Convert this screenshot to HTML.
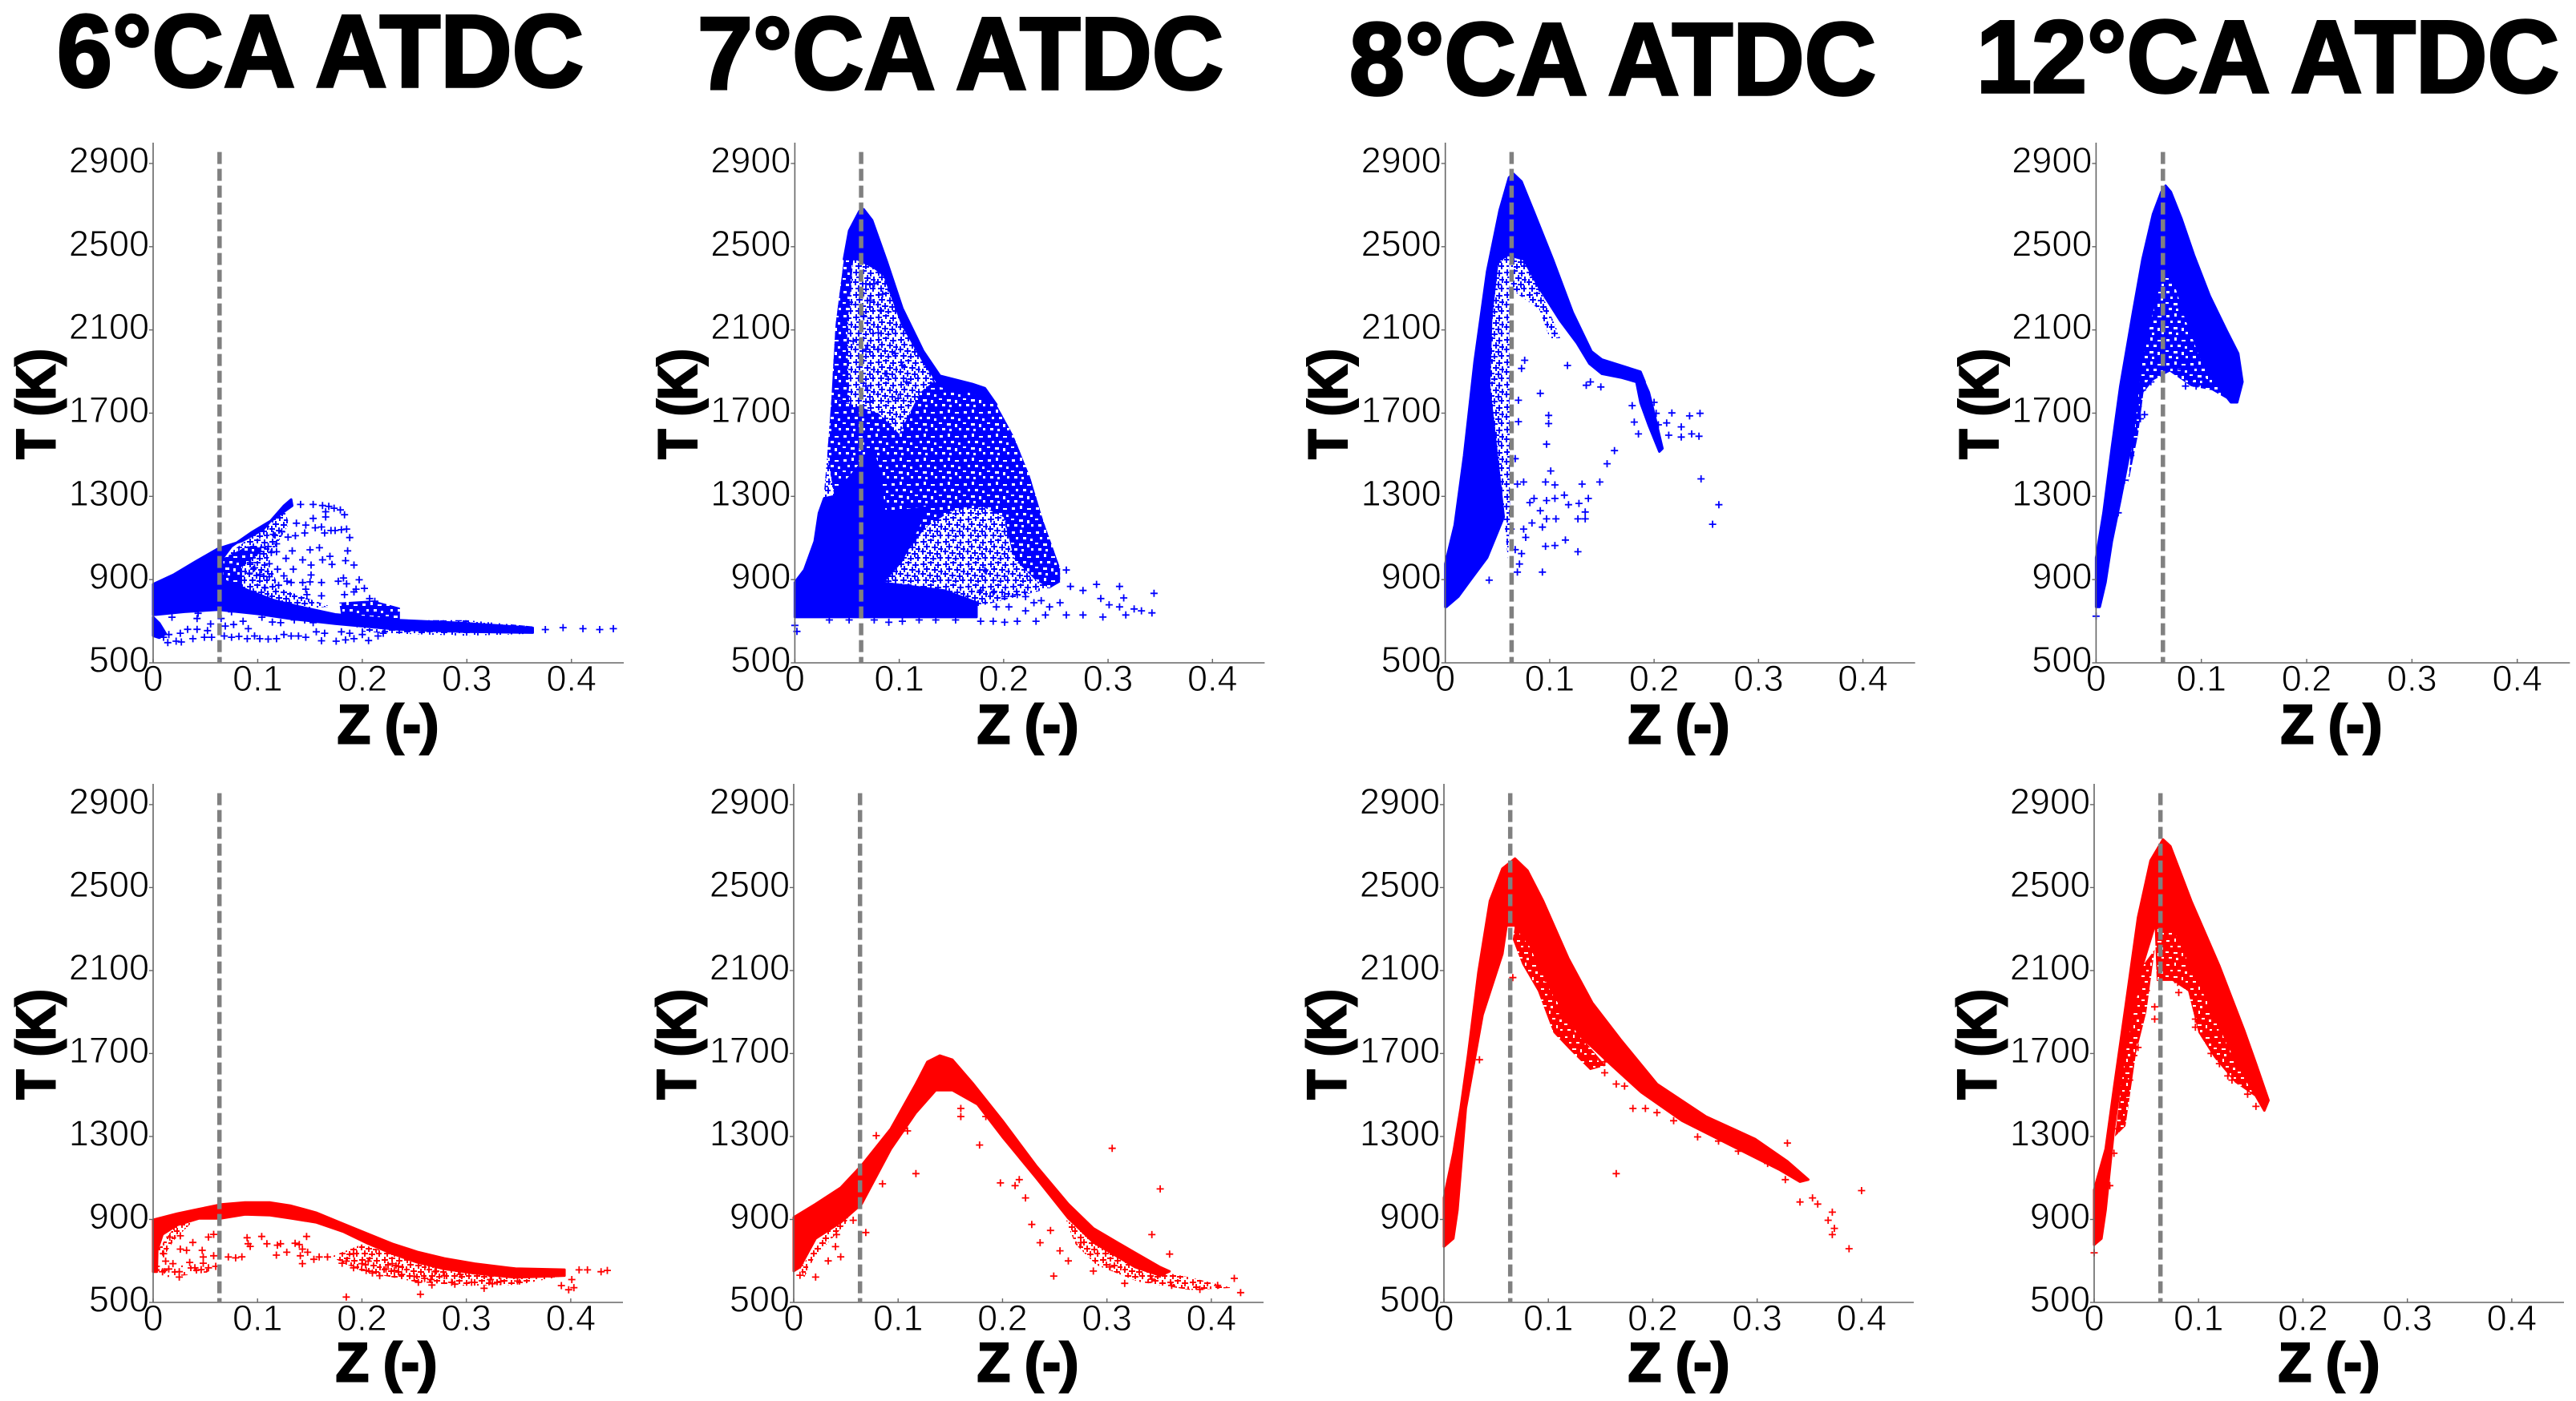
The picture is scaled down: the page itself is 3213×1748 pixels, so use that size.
<!DOCTYPE html>
<html>
<head>
<meta charset="utf-8">
<title>T-Z scatter panels</title>
<style>
html,body{margin:0;padding:0;background:#fff;}
svg{display:block;}
text{font-family:"Liberation Sans",sans-serif;}
</style>
</head>
<body>
<svg id="figure" xmlns="http://www.w3.org/2000/svg" width="3213" height="1748" viewBox="0 0 3213 1748">
<defs>
<pattern id="sparse-blue" patternUnits="userSpaceOnUse" width="40" height="40"><path fill="none" stroke="#0000ff" stroke-width="1.8" d="M2 6h8M6 2v8M16 4h8M20 0v8M29 9h8M33 5v8M8 15h8M12 11v8M23 17h8M27 13v8M34 22h8M38 18v8M1 25h8M5 21v8M14 27h8M18 23v8M26 31h8M30 27v8M6 35h8M10 31v8M18 38h8M22 34v8M33 36h8M37 32v8"/></pattern>
<pattern id="sparse-red" patternUnits="userSpaceOnUse" width="40" height="40"><path fill="none" stroke="#ff0000" stroke-width="1.8" d="M2 6h8M6 2v8M16 4h8M20 0v8M29 9h8M33 5v8M8 15h8M12 11v8M23 17h8M27 13v8M34 22h8M38 18v8M1 25h8M5 21v8M14 27h8M18 23v8M26 31h8M30 27v8M6 35h8M10 31v8M18 38h8M22 34v8M33 36h8M37 32v8"/></pattern>
<pattern id="medium-blue" patternUnits="userSpaceOnUse" width="28" height="28"><path fill="none" stroke="#0000ff" stroke-width="1.9" d="M0 4h8M4 0v8M9 2h8M13 -2v8M18 5h8M22 1v8M4 10h8M8 6v8M14 11h8M18 7v8M22 13h8M26 9v8M-1 16h8M3 12v8M8 18h8M12 14v8M17 19h8M21 15v8M3 24h8M7 20v8M12 25h8M16 21v8M21 24h8M25 20v8"/></pattern>
<pattern id="medium-red" patternUnits="userSpaceOnUse" width="28" height="28"><path fill="none" stroke="#ff0000" stroke-width="1.9" d="M0 4h8M4 0v8M9 2h8M13 -2v8M18 5h8M22 1v8M4 10h8M8 6v8M14 11h8M18 7v8M22 13h8M26 9v8M-1 16h8M3 12v8M8 18h8M12 14v8M17 19h8M21 15v8M3 24h8M7 20v8M12 25h8M16 21v8M21 24h8M25 20v8"/></pattern>
<pattern id="dense-blue" patternUnits="userSpaceOnUse" width="30" height="30"><rect width="30" height="30" fill="#0000ff"/><path fill="#fff" d="M2 3h4v3h-4zM12 1h3v4h-3zM21 4h5v2h-5zM7 10h3v3h-3zM16 10h4v3h-4zM25 12h3v3h-3zM1 17h4v2h-4zM11 18h5v3h-5zM21 19h3v4h-3zM5 24h4v3h-4zM14 25h3v3h-3zM26 24h3v3h-3z"/></pattern>
<pattern id="dense-red" patternUnits="userSpaceOnUse" width="30" height="30"><rect width="30" height="30" fill="#ff0000"/><path fill="#fff" d="M2 3h4v2h-4zM12 1h2v4h-2zM21 4h5v2h-5zM7 10h3v2h-3zM16 10h4v2h-4zM25 12h3v3h-3zM1 17h4v2h-4zM11 18h5v2h-5zM21 19h2v4h-2zM5 24h4v2h-4zM14 25h3v3h-3zM26 24h3v2h-3z"/></pattern>
</defs>
</svg>
<script>
// ---- axis values ----
const zTicks = [0, 0.1, 0.2, 0.3, 0.4];
const zTickLabels = ["0", "0.1", "0.2", "0.3", "0.4"];
const tTicks = [500, 900, 1300, 1700, 2100, 2500, 2900];
const zDomain = [0, 0.45];
const tDomain = [500, 3000];
const stoichiometricZ = 0.0635;
const stoichiometricTop = 2955;
const crankAngleTitles = ["6°CA ATDC", "7°CA ATDC", "8°CA ATDC", "12°CA ATDC"];

// ---- panel 1: 6 CA, blue ----
const p1Solid = [[0,878],[.02,925],[.04,985],[.062,1049],[.085,1085],[.105,1140],[.125,1255],[.132,1285],[.133,1255],[.115,1190],[.095,1130],[.075,1060],[.066,1000],[.066,900],[.09,850],[.114,803],[.14,770],[.174,733],[.235,705],[.295,692],[.363,668],[.363,645],[.295,650],[.235,660],[.174,688],[.134,710],[.1,735],[.062,755],[.03,745],[0,730]];
const p1Clot = [[0,720],[.006,690],[.012,640],[.006,620],[0,630]];
const p1DenseA = [[.066,1000],[.09,1060],[.11,1060],[.085,960],[.085,850],[.066,880]];
const p1DenseB = [[.178,790],[.21,800],[.236,765],[.236,700],[.18,720]];
const p1MediumA = [[.066,1000],[.1,1130],[.125,1240],[.13,1170],[.11,1000],[.12,860],[.17,770],[.14,760],[.09,840],[.066,890]];
const p1MediumB = [[.235,705],[.3,705],[.363,675],[.363,640],[.3,630],[.235,640],[.2,650],[.19,690]];
const p1Points = [[.141,1261],[.153,1261],[.162,1256],[.168,1252],[.173,1243],[.179,1235],[.183,1212],[.165,1226],[.165,1201],[.153,1194],[.146,1162],[.137,1171],[.155,1149],[.161,1153],[.170,1136],[.174,1136],[.180,1140],[.185,1143],[.188,1102],[.164,1124],[.145,1124],[.136,1111],[.129,1104],[.123,1130],[.115,1117],[.118,1072],[.110,1059],[.133,1038],[.150,1043],[.159,1053],[.169,1012],[.162,995],[.184,991],[.186,1038],[.192,970],[.171,973],[.151,970],[.143,995],[.127,1002],[.118,1034],[.113,1030],[.111,976],[.119,950],[.134,950],[.151,922],[.143,886],[.150,889],[.161,886],[.177,892],[.182,908],[.185,880],[.197,899],[.125,918],[.111,914],[.102,925],[.093,982],[.102,1034],[.097,957],[.092,931],[.107,860],[.120,873],[.128,892],[.132,886],[.161,822],[.147,828],[.146,854],[.183,828],[.194,854],[.202,858],[.192,841],[.207,809],[.212,796],[.010,623],[.014,597],[.022,604],[.027,600],[.015,636],[.026,642],[.033,661],[.038,616],[.042,661],[.049,623],[.052,655],[.056,623],[.068,629],[.075,623],[.082,627],[.090,616],[.097,629],[.102,616],[.110,614],[.118,616],[.125,636],[.132,629],[.139,629],[.146,623],[.156,649],[.161,606],[.164,642],[.175,604],[.184,610],[.192,616],[.200,636],[.206,607],[.215,629],[.220,642],[.043,738],[.042,713],[.018,719],[.055,687],[.069,677],[.077,684],[.086,700],[.091,664],[.104,719],[.114,696],[.122,693],[.135,706],[.145,706],[.153,693],[.180,649],[.188,642],[.065,713],[.075,745],[.375,660],[.392,669],[.411,664],[.427,660],[.440,664]];

// ---- panel 2: 7 CA, blue ----
const p2Envelope = [[0,887],[.009,946],[.019,1084],[.027,1260],[.031,1496],[.035,1771],[.039,2125],[.047,2440],[.052,2577],[.062,2672],[.066,2680],[.074,2627],[.088,2430],[.103,2204],[.123,1998],[.139,1880],[.170,1840],[.182,1820],[.193,1742],[.209,1595],[.225,1398],[.238,1182],[.254,956],[.254,887],[.244,858],[.174,769],[.174,720],[0,720]];
const p2Dense = [[.035,1771],[.05,1750],[.08,1700],[.1,1600],[.12,1800],[.14,1880],[.17,1840],[.182,1820],[.193,1742],[.209,1595],[.225,1398],[.238,1182],[.254,956],[.254,887],[.244,858],[.23,900],[.21,1000],[.2,1200],[.18,1250],[.15,1230],[.125,1150],[.11,1050],[.1,1000],[.085,1100],[.04,1240],[.031,1496]];
const p2LeftStrip = [[.039,2125],[.047,2440],[.056,2440],[.05,2100],[.052,1750],[.035,1771]];
const p2Crest = [[.047,2440],[.052,2577],[.062,2672],[.066,2680],[.074,2627],[.088,2430],[.103,2204],[.123,1998],[.139,1880],[.170,1840],[.182,1820],[.193,1742],[.186,1760],[.17,1800],[.139,1830],[.123,1950],[.103,2125],[.086,2360],[.076,2400],[.06,2440]];
const p2Mass = [[0,887],[.009,946],[.019,1084],[.023,1220],[.028,1290],[.037,1300],[.06,1437],[.074,1528],[.08,1437],[.086,1220],[.127,1247],[.102,989],[.084,885],[.143,848],[.174,790],[.174,720],[0,720]];
const p2Points = [[.178,848],[.190,838],[.201,818],[.213,828],[.221,818],[.229,789],[.236,799],[.244,769],[.254,789],[.260,730],[.264,867],[.276,848],[.289,877],[.293,809],[.301,779],[.311,867],[.315,812],[.311,769],[.325,759],[.332,750],[.342,740],[.344,834],[.317,730],[.295,720],[.276,730],[.240,730],[.231,700],[.213,700],[.201,695],[.190,700],[.178,700],[.182,946],[.193,769],[.205,769],[.221,750],[.260,946],[.002,651],[.033,706],[.052,706],[.076,706],[.09,695],[.103,700],[.119,706],[.135,706],[.154,706],[0,680],[.068,2322],[.076,2322],[.072,2243],[.084,2272],[.066,2164],[.082,2194],[.080,2086],[.068,2007],[.096,1987],[.103,1929],[.080,2007],[.052,2223],[.056,2046],[.045,2007],[.049,1889],[.068,1830],[.088,1889],[.107,1850],[.099,1771],[.072,1752]];

// ---- panel 3: 8 CA, blue ----
const p3Solid = [[0,976],[.009,1162],[.018,1496],[.028,1948],[.040,2381],[.052,2675],[.061,2832],[.065,2852],[.073,2813],[.085,2665],[.103,2439],[.122,2184],[.14,1997],[.15,1958],[.187,1899],[.191,1850],[.187,1800],[.183,1850],[.169,1870],[.15,1889],[.138,1938],[.126,2037],[.11,2145],[.09,2302],[.075,2440],[.06,2460],[.05,2430],[.044,2164],[.042,1830],[.056,1201],[.04,1005],[.024,897],[.0125,818],[.001,769],[0,769]];
const p3MediumA = [[.044,2164],[.05,2430],[.061,2548],[.062,1200],[.060,1000],[.056,1201],[.042,1830]];
const p3MediumB = [[.063,2460],[.075,2440],[.09,2302],[.107,2100],[.11,2060],[.1,2060],[.09,2200],[.07,2270],[.063,2300]];
const p3Chain = [[.188,1880],[.195,1800],[.2,1700],[.208,1530],[.205,1515],[.195,1640],[.187,1750],[.183,1850]];
const p3Points = [[.042,897],[.069,936],[.093,936],[.096,1060],[.105,1064],[.115,1090],[.127,1034],[.073,1025],[.071,975],[.067,1044],[.077,1103],[.063,1143],[.075,1143],[.083,1172],[.093,1152],[.091,1231],[.081,1270],[.085,1290],[.097,1280],[.105,1290],[.114,1306],[.105,1355],[.096,1369],[.069,1359],[.075,1369],[.131,1359],[.148,1369],[.137,1290],[.128,1266],[.118,1260],[.134,1225],[.134,1192],[.127,1192],[.106,1192],[.097,1192],[.101,1422],[.067,1481],[.155,1457],[.162,1520],[.097,1551],[.099,1650],[.099,1689],[.070,1659],[.070,1762],[.091,1795],[.076,1954],[.073,1915],[.117,1929],[.135,1834],[.139,1850],[.149,1826],[.245,1384],[.262,1260],[.256,1166],[.179,1736],[.181,1657],[.185,1600],[.200,1752],[.202,1699],[.217,1701],[.234,1687],[.244,1699],[.212,1653],[.226,1634],[.214,1594],[.226,1585],[.236,1600],[.243,1589],[.204,1644],[.202,1585]];

// ---- panel 4: 12 CA, blue ----
const p4Solid = [[0,1005],[.007,1221],[.015,1536],[.023,1830],[.035,2184],[.044,2439],[.054,2656],[.062,2764],[.066,2793],[.071,2764],[.081,2636],[.093,2459],[.108,2263],[.124,2096],[.135,1987],[.139,1850],[.134,1752],[.128,1752],[.116,1830],[.101,1948],[.085,2164],[.073,2361],[.062,2361],[.052,2164],[.042,1929],[.035,1595],[.023,1280],[.015,1084],[.009,887],[.0035,769],[0,769]];
const p4Dense = [[.042,1929],[.052,2164],[.062,2361],[.073,2361],[.085,2164],[.101,1948],[.116,1830],[.13,1752],[.11,1810],[.09,1830],[.07,1900],[.055,1860],[.045,1800],[.04,1600],[.03,1350],[.035,1595]];
const p4Points = [[.085,1830],[.095,1830],[.104,1850],[.089,1860],[.046,1693],[.040,1732],[.042,1673],[.035,1575],[.033,1496],[.027,1378],[.023,1339],[.021,1221],[.052,1850],[.044,1811],[.081,1909],[0,724]];

// ---- panel 5: 6 CA, red ----
const p5Solid = [[0,898],[.023,928],[.044,950],[.065,972],[.088,982],[.112,982],[.132,966],[.156,933],[.182,879],[.206,830],[.229,783],[.253,744],[.279,712],[.308,687],[.347,663],[.394,658],[.394,629],[.347,620],[.308,640],[.279,661],[.253,693],[.229,735],[.206,783],[.182,841],[.156,886],[.132,905],[.112,920],[.088,924],[.065,905],[.044,905],[.023,873],[.009,828],[.004,751],[.0035,648],[0,648]];
const p5MediumA = [[.2,780],[.25,700],[.3,640],[.35,620],[.39,625],[.35,585],[.3,580],[.25,600],[.2,650],[.17,720]];
const p5MediumB = [[.004,750],[.02,860],[.04,900],[.02,800],[.01,720]];
const p5SparseA = [[.0035,660],[.03,680],[.06,670],[.05,640],[.01,620]];
const p5Points = [[.010,735],[.026,821],[.016,815],[.038,789],[.026,757],[.032,751],[.047,751],[.048,719],[.058,725],[.053,815],[.058,828],[.072,719],[.079,715],[.085,720],[.090,812],[.091,783],[.093,770],[.104,818],[.109,783],[.119,776],[.122,783],[.118,728],[.128,742],[.136,785],[.140,779],[.143,757],[.148,742],[.141,725],[.143,687],[.154,708],[.159,719],[.167,719],[.147,818],[.181,689],[.185,699],[.192,735],[.192,667],[.200,687],[.206,699],[.204,654],[.210,642],[.217,629],[.223,661],[.231,654],[.238,635],[.250,626],[.254,597],[.260,616],[.267,584],[.266,610],[.279,629],[.286,597],[.289,588],[.305,597],[.317,568],[.325,590],[.333,601],[.349,603],[.185,526],[.256,539],[.391,581],[.398,561],[.403,571],[.401,610],[.408,657],[.416,657],[.429,648],[.435,654],[.003,674],[.009,648],[.015,661],[.025,622],[.025,648],[.035,693],[.040,667],[.046,658],[.048,689],[.053,667],[.060,674],[.019,687],[.012,699],[.229,687],[.235,674],[.270,648],[.294,635],[.323,610]];

// ---- panel 6: 7 CA, red ----
const p6Solid = [[0,910],[.021,974],[.045,1053],[.065,1160],[.093,1337],[.117,1553],[.128,1660],[.14,1690],[.152,1670],[.172,1553],[.2,1376],[.232,1160],[.263,974],[.287,857],[.327,739],[.351,670],[.36,650],[.351,630],[.327,670],[.287,790],[.263,906],[.232,1102],[.2,1298],[.176,1455],[.152,1523],[.136,1523],[.117,1415],[.093,1239],[.065,974],[.045,886],[.021,808],[.006,670],[0,651]];
const p6MediumA = [[.26,900],[.3,770],[.35,650],[.38,620],[.42,570],[.38,560],[.33,600],[.29,680],[.27,780]];
const p6MediumB = [[.006,660],[.03,840],[.055,950],[.05,880],[.02,720],[.01,620]];
const p6Points = [[.079,1304],[.105,1337],[.117,1121],[.178,1259],[.305,1243],[.351,1047],[.198,1076],[.212,1063],[.216,1092],[.222,1004],[.228,876],[.246,847],[.343,827],[.360,733],[.249,627],[.236,788],[.255,749],[.263,700],[.275,788],[.287,651],[.303,671],[.317,592],[.343,612],[.362,582],[.389,563],[.406,582],[.428,547],[.422,616],[.160,1435],[.176,1474],[.184,1396],[.160,1396],[.006,631],[.021,622],[.045,720],[.033,700],[.040,769],[.069,837],[.041,827],[.057,896],[.085,1072],[.109,1327]];

// ---- panel 7: 8 CA, red ----
const p7Solid = [[0,1004],[.009,1219],[.016,1435],[.023,1690],[.033,2092],[.044,2435],[.056,2591],[.068,2640],[.08,2582],[.095,2435],[.119,2160],[.142,1945],[.169,1768],[.204,1553],[.251,1396],[.298,1288],[.329,1180],[.349,1092],[.341,1082],[.321,1141],[.282,1239],[.228,1376],[.189,1513],[.161,1641],[.130,1788],[.103,2003],[.083,2219],[.068,2317],[.060,2317],[.056,2180],[.037,1886],[.021,1435],[.013,945],[.009,808],[0,769]];
const p7Dense = [[.068,2317],[.083,2219],[.103,2003],[.130,1788],[.155,1641],[.14,1620],[.12,1720],[.105,1800],[.09,2000],[.075,2130],[.066,2250]];
const p7Points = [[.066,2066],[.034,1670],[.165,1121],[.154,1607],[.165,1553],[.173,1543],[.181,1435],[.193,1435],[.204,1415],[.220,1376],[.243,1298],[.282,1229],[.263,1278],[.329,1268],[.310,1170],[.327,1092],[.341,984],[.353,1004],[.358,974],[.368,896],[.372,935],[.374,857],[.372,827],[.388,759],[.400,1039],[.119,1788],[.134,1739],[.146,1670],[.154,1660],[.111,1886],[.097,2062],[.080,2229]];

// ---- panel 8: 12 CA, red ----
const p8Solid = [[0,1043],[.011,1239],[.019,1533],[.030,1925],[.042,2356],[.054,2630],[.066,2732],[.073,2699],[.093,2435],[.12,2121],[.144,1807],[.155,1651],[.167,1474],[.163,1425],[.144,1592],[.128,1749],[.112,1925],[.093,2121],[.077,2297],[.058,2317],[.046,2121],[.030,1729],[.019,1337],[.011,945],[.007,808],[0,778]];
const p8DenseA = [[.058,2317],[.077,2297],[.093,2121],[.112,1925],[.128,1749],[.144,1592],[.163,1425],[.155,1490],[.135,1560],[.115,1680],[.1,1800],[.09,2000],[.075,2050],[.06,2050]];
const p8DenseB = [[.046,2121],[.058,2200],[.05,1900],[.04,1700],[.03,1350],[.02,1300],[.03,1729]];
const p8Points = [[.097,1866],[.097,1827],[.120,1807],[.112,1700],[.120,1651],[.128,1592],[.147,1504],[.155,1445],[.132,1572],[.081,1994],[.080,2043],[.058,1925],[.058,1866],[.050,2003],[.042,1729],[.038,1690],[.034,1572],[.030,1494],[.027,1415],[.023,1337],[.019,1219],[.015,1063],[0,739]];

// ---- which series belong to which panel ----
const panelSeries = [
  {color:"blue", sparse:[], medium:[p1MediumA,p1MediumB], dense:[p1DenseA,p1DenseB], solid:[p1Solid,p1Clot], points:p1Points},
  {color:"blue", sparse:[], medium:[p2Envelope], dense:[p2Dense,p2LeftStrip], solid:[p2Crest,p2Mass], points:p2Points},
  {color:"blue", sparse:[], medium:[p3MediumA,p3MediumB], dense:[], solid:[p3Solid,p3Chain], points:p3Points},
  {color:"blue", sparse:[], medium:[], dense:[p4Dense], solid:[p4Solid], points:p4Points},
  {color:"red", sparse:[p5SparseA], medium:[p5MediumA,p5MediumB], dense:[], solid:[p5Solid], points:p5Points},
  {color:"red", sparse:[], medium:[p6MediumA,p6MediumB], dense:[], solid:[p6Solid], points:p6Points},
  {color:"red", sparse:[], medium:[], dense:[p7Dense], solid:[p7Solid], points:p7Points},
  {color:"red", sparse:[], medium:[], dense:[p8DenseA,p8DenseB], solid:[p8Solid], points:p8Points}
];

// ---- page layout (not data) ----
const panelLayout = [
  {x:191,w:587,bottom:827,h:649,xt:484,yt:504,bt:927},
  {x:991.4,w:586,bottom:827,h:649,xt:1282,yt:504,bt:927},
  {x:1802.7,w:586,bottom:827,h:649,xt:2094,yt:504,bt:927},
  {x:2614.4,w:591,bottom:827,h:649,xt:2908,yt:504,bt:927},
  {x:191,w:586,bottom:1625,h:647,xt:482,yt:1303,bt:1723},
  {x:990,w:586,bottom:1625,h:647,xt:1282,yt:1303,bt:1723},
  {x:1801,w:586,bottom:1625,h:647,xt:2094,yt:1303,bt:1723},
  {x:2612,w:586,bottom:1625,h:647,xt:2905,yt:1303,bt:1723}
];
const titleLayout = [
  {x:71,y:108,len:657},
  {x:870,y:111,len:656},
  {x:1683,y:118,len:657},
  {x:2465,y:115,len:727}
];

const NS = "http://www.w3.org/2000/svg";
const figure = document.getElementById("figure");
function make(tag, parent, attrs){
  const el = document.createElementNS(NS, tag);
  for (const k in attrs) el.setAttribute(k, attrs[k]);
  parent.appendChild(el);
  return el;
}

crankAngleTitles.forEach(function(label, i){
  const t = titleLayout[i];
  const el = make("text", figure, {x:t.x, y:t.y, "font-size":128, "font-weight":"bold", fill:"#000", stroke:"#000", "stroke-width":3.5, textLength:t.len, lengthAdjust:"spacingAndGlyphs"});
  
  
  el.textContent = label;
});

panelSeries.forEach(function(series, i){
  const box = panelLayout[i];
  const hex = series.color === "blue" ? "#0000ff" : "#ff0000";
  const xScale = function(z){ return box.x + (z - zDomain[0]) / (zDomain[1] - zDomain[0]) * box.w; };
  const yScale = function(t){ return box.bottom - (t - tDomain[0]) / (tDomain[1] - tDomain[0]) * box.h; };
  const toPoints = function(arr){ return arr.map(function(p){ return xScale(p[0]).toFixed(1) + "," + yScale(p[1]).toFixed(1); }).join(" "); };

  const g = make("g", figure, {});
  
  

  series.sparse.forEach(function(arr){
    const el = make("polygon", g, {points:toPoints(arr), fill:"url(#sparse-" + series.color + ")"});
    
    
  });
  series.medium.forEach(function(arr){
    const el = make("polygon", g, {points:toPoints(arr), fill:"url(#medium-" + series.color + ")"});
    
    
  });
  series.dense.forEach(function(arr){
    const el = make("polygon", g, {points:toPoints(arr), fill:"url(#dense-" + series.color + ")"});
    
    
  });
  series.solid.forEach(function(arr){
    const el = make("polygon", g, {points:toPoints(arr), fill:hex, stroke:hex, "stroke-width":3, "stroke-linejoin":"round"});
    
    
  });
  series.points.forEach(function(p){
    const px = xScale(p[0]), py = yScale(p[1]);
    const el = make("path", g, {d:"M" + (px-4.5).toFixed(1) + " " + py.toFixed(1) + "h9M" + px.toFixed(1) + " " + (py-4.5).toFixed(1) + "v9", stroke:hex, "stroke-width":1.8, fill:"none"});
    
    
  });

  const yAxis = make("line", g, {x1:box.x, x2:box.x, y1:box.bottom, y2:box.bottom-box.h, stroke:"#666", "stroke-width":1.6});
  
  
  const xAxis = make("line", g, {x1:box.x, x2:box.x+box.w, y1:box.bottom, y2:box.bottom, stroke:"#666", "stroke-width":1.6});
  
  

  tTicks.forEach(function(t){
    const y = yScale(t);
    const tick = make("line", g, {x1:box.x-5, x2:box.x, y1:y, y2:y, stroke:"#666", "stroke-width":1.4});
    
    
    const lab = make("text", g, {x:box.x-5, y:y+11.5, "font-size":45, "text-anchor":"end", fill:"#000", stroke:"#fff", "stroke-width":0.9});
    
    
    lab.textContent = String(t);
  });
  zTicks.forEach(function(z, k){
    const x = xScale(z);
    const tick = make("line", g, {x1:x, x2:x, y1:box.bottom-5, y2:box.bottom, stroke:"#666", "stroke-width":1.4});
    
    
    const lab = make("text", g, {x:x, y:box.bottom+35, "font-size":45, "text-anchor":"middle", fill:"#000", stroke:"#fff", "stroke-width":0.9});
    
    
    lab.textContent = zTickLabels[k];
  });

  const dash = make("line", g, {x1:xScale(stoichiometricZ), x2:xScale(stoichiometricZ), y1:yScale(stoichiometricTop), y2:box.bottom, stroke:"#808080", "stroke-width":5.5, "stroke-dasharray":"15 6"});
  
  

  const xTitle = make("text", g, {x:box.xt, y:box.bt, "font-size":68, "font-weight":"bold", "text-anchor":"middle", fill:"#000", stroke:"#000", "stroke-width":3, textLength:126, lengthAdjust:"spacingAndGlyphs"});
  
  
  xTitle.textContent = "Z (-)";

  const yTitle = make("text", g, {transform:"translate(" + (box.x-123) + " " + box.yt + ") rotate(-90)", x:0, y:0, "font-size":68, "font-weight":"bold", "text-anchor":"middle", fill:"#000", stroke:"#000", "stroke-width":3, textLength:137, lengthAdjust:"spacingAndGlyphs"});
  
  
  yTitle.textContent = "T (K)";
});
</script>
</body>
</html>
